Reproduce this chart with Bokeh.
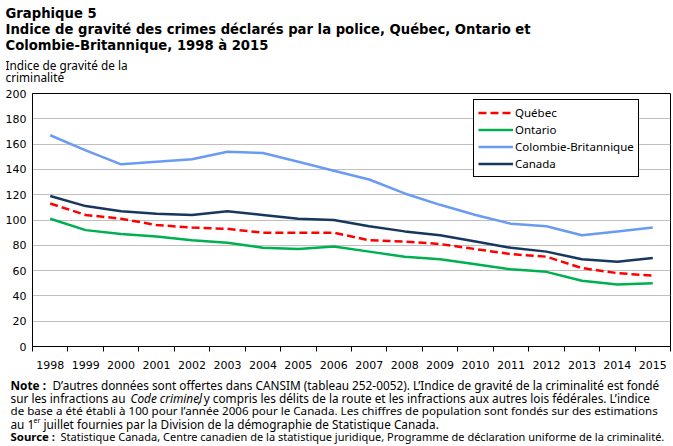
from bokeh.plotting import figure
from bokeh.layouts import column
from bokeh.models import Range1d, FixedTicker, Label, Legend, LegendItem
from bokeh.embed import file_html
from bokeh.resources import INLINE

years = list(range(1998, 2016))
quebec = [113, 104, 101, 96, 94, 93, 90, 90, 90, 84, 83, 81, 77, 73, 71, 62, 58, 56]
ontario = [101, 92, 89, 87, 84, 82, 78, 77, 79, 75, 71, 69, 65, 61, 59, 52, 49, 50]
colombie_britannique = [167, 155, 144, 146, 148, 154, 153, 146, 139, 132, 121, 112, 104, 97, 95, 88, 91, 94]
canada = [119, 111, 107, 105, 104, 107, 104, 101, 100, 95, 91, 88, 83, 78, 75, 69, 67, 70]
series_names = ["Québec", "Ontario", "Colombie-Britannique", "Canada"]
y_ticks = [0, 20, 40, 60, 80, 100, 120, 140, 160, 180, 200]

W = 673
HEAD_H = 88
MAIN_TOP = 5
FRAME_H = 253
MAIN_BOTTOM = 30
MAIN_H = MAIN_TOP + FRAME_H + MAIN_BOTTOM
NOTE_TOP = HEAD_H + MAIN_H
NOTE_H = 446 - NOTE_TOP
LEFT, RIGHT = 32, 3
FB = HEAD_H + MAIN_TOP + FRAME_H

SANS = "Noto Sans"
VERD = "DejaVu Sans"
NOTE_SIZE = "11.8px"


def text_fig(h):
    f = figure(width=W, height=h, output_backend="svg", toolbar_location=None,
               x_range=Range1d(0, W), y_range=Range1d(0, h),
               x_axis_type=None, y_axis_type=None, min_border=0, frame_align=False)
    f.outline_line_color = None
    f.grid.grid_line_color = None
    f.background_fill_color = "white"
    f.border_fill_color = "white"
    return f


def txt(f, top, h, x, y, s, font=SANS, size=NOTE_SIZE, style="normal"):
    f.add_layout(Label(x=x, y=h - (y - top), x_units="screen", y_units="screen", text=s,
                       text_font=font, text_font_size=size, text_font_style=style,
                       text_color="black", text_baseline="middle", text_align="left"))


head = text_fig(HEAD_H)
txt(head, 0, HEAD_H, 5, 13, "Graphique  5", font=VERD, size="13.2px", style="bold")
txt(head, 0, HEAD_H, 5, 29, "Indice de gravité des crimes déclarés par la police, Québec, Ontario et", font=VERD, size="13.2px", style="bold")
txt(head, 0, HEAD_H, 5, 45, "Colombie-Britannique, 1998 à 2015", font=VERD, size="13.2px", style="bold")
txt(head, 0, HEAD_H, 5, 64, "Indice de gravité de la")
txt(head, 0, HEAD_H, 5, 76, "criminalité")

p = figure(width=W, height=MAIN_H, output_backend="svg", toolbar_location=None,
           x_range=Range1d(1997.5, 2015.5), y_range=Range1d(0, 200),
           min_border_left=LEFT, min_border_right=RIGHT,
           min_border_top=MAIN_TOP, min_border_bottom=MAIN_BOTTOM, frame_align=False)
p.outline_line_color = "black"
p.outline_line_width = 1
p.background_fill_color = "white"
p.border_fill_color = "white"

p.xgrid.grid_line_color = None
p.ygrid.grid_line_color = "#BFBFBF"
p.ygrid.grid_line_width = 1

p.yaxis.ticker = FixedTicker(ticks=y_ticks)
p.yaxis.major_tick_out = 0
p.yaxis.major_tick_in = 0
p.yaxis.minor_tick_out = 0
p.yaxis.minor_tick_in = 0
p.yaxis.major_label_standoff = 6
p.yaxis.axis_line_color = "black"
p.yaxis.major_label_text_font = VERD
p.yaxis.major_label_text_font_size = "11px"
p.yaxis.major_label_text_color = "black"

p.xaxis.ticker = FixedTicker(ticks=years, minor_ticks=[y - 0.5 for y in years] + [years[-1] + 0.5])
p.xaxis.major_tick_out = 0
p.xaxis.major_tick_in = 0
p.xaxis.minor_tick_out = 5
p.xaxis.minor_tick_in = 0
p.xaxis.minor_tick_line_color = "black"
p.xaxis.major_label_standoff = 9
p.xaxis.axis_line_color = "black"
p.xaxis.major_label_text_font = VERD
p.xaxis.major_label_text_font_size = "11px"
p.xaxis.major_label_text_color = "black"

r_qc = p.line(years, quebec, line_color="#FF0000", line_width=2.5, line_dash="8 4")
r_on = p.line(years, ontario, line_color="#00B050", line_width=2.5)
r_cb = p.line(years, colombie_britannique, line_color="#6A9BF4", line_width=2.5)
r_ca = p.line(years, canada, line_color="#17375E", line_width=2.5)

legend = Legend(items=[LegendItem(label=n, renderers=[r]) for n, r in
                       zip(series_names, [r_qc, r_on, r_cb, r_ca])],
                location=(473 - LEFT, FB - 177), orientation="vertical",
                border_line_color="black", border_line_width=1, border_line_alpha=1,
                background_fill_color="white", background_fill_alpha=1,
                padding=4, spacing=0, margin=0,
                glyph_width=35, glyph_height=17, label_height=17, label_standoff=2,
                label_text_font=SANS, label_text_font_size="11.5px", label_text_color="black")
p.add_layout(legend, "center")

notes = text_fig(NOTE_H)
T = NOTE_TOP
txt(notes, T, NOTE_H, 10, 384, "Note :", style="bold")
txt(notes, T, NOTE_H, 52, 384, "D’autres données sont offertes dans CANSIM (tableau 252-0052). L’Indice de gravité de la criminalité est fondé")
txt(notes, T, NOTE_H, 10, 397, "sur les infractions au")
txt(notes, T, NOTE_H, 130, 397, "Code criminel", style="italic")
txt(notes, T, NOTE_H, 197, 397, ", y compris les délits de la route et les infractions aux autres lois fédérales. L’indice")
txt(notes, T, NOTE_H, 10, 410, "de base a été établi à 100 pour l’année 2006 pour le Canada. Les chiffres de population sont fondés sur des estimations",
    size="11.6px")
txt(notes, T, NOTE_H, 10, 423, "au 1")
txt(notes, T, NOTE_H, 33, 420, "er", size="7px")
txt(notes, T, NOTE_H, 43, 423, "juillet fournies par la Division de la démographie de Statistique Canada.")
txt(notes, T, NOTE_H, 10, 436, "Source :", style="bold", size="11.4px")
txt(notes, T, NOTE_H, 60, 436, "Statistique Canada, Centre canadien de la statistique juridique, Programme de déclaration uniforme de la criminalité.",
    size="11px")

layout = column(head, p, notes, spacing=0)
open("out.html", "w").write(file_html(layout, INLINE))
